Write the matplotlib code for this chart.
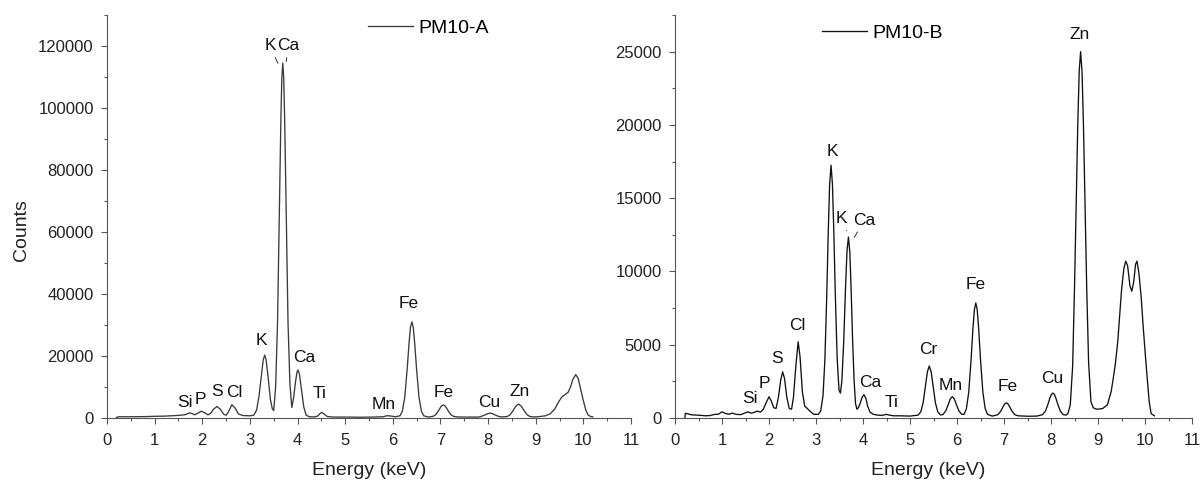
import matplotlib
matplotlib.use("Agg")
import matplotlib.pyplot as plt
from matplotlib.ticker import MultipleLocator

plt.rcParams['font.family'] = ['Liberation Sans', 'DejaVu Sans']

# ---------------- data: PM10-A ----------------
energy_A = [0.20, 0.25, 0.50, 0.80, 1.00, 1.20, 1.40, 1.55, 1.65, 1.70, 1.74, 1.78, 1.84, 1.90, 1.98,
            2.05, 2.12, 2.18, 2.24, 2.31, 2.38, 2.45, 2.50, 2.55, 2.62, 2.69, 2.76, 2.85, 3.00, 3.08,
            3.14, 3.19, 3.24, 3.28, 3.31, 3.34, 3.38, 3.43, 3.47, 3.50, 3.54, 3.58, 3.62, 3.65, 3.67,
            3.69, 3.71, 3.73, 3.76, 3.80, 3.84, 3.88, 3.92, 3.96, 3.99, 4.01, 4.04, 4.08, 4.13, 4.18,
            4.25, 4.35, 4.42, 4.47, 4.51, 4.55, 4.62, 4.75, 5.00, 5.30, 5.60, 5.80, 5.88, 5.95, 6.05,
            6.15, 6.20, 6.25, 6.30, 6.34, 6.37, 6.40, 6.43, 6.46, 6.50, 6.55, 6.60, 6.65, 6.75, 6.85,
            6.90, 6.95, 7.00, 7.03, 7.06, 7.09, 7.12, 7.17, 7.22, 7.27, 7.35, 7.50, 7.80, 7.85, 7.92,
            7.98, 8.04, 8.10, 8.16, 8.23, 8.30, 8.40, 8.46, 8.52, 8.58, 8.64, 8.70, 8.76, 8.82, 8.88,
            8.95, 9.05, 9.20, 9.30, 9.40, 9.48, 9.55, 9.62, 9.68, 9.73, 9.78, 9.84, 9.89, 9.94, 10.00,
            10.05, 10.10, 10.15, 10.20]
counts_A = [200, 400, 400, 450, 550, 600, 750, 900, 1100, 1450, 1650, 1450, 1050, 1500, 2200,
            1700, 1000, 1600, 2900, 3700, 2800, 1200, 900, 2000, 4300, 3200, 1300, 800, 700, 900,
            2500, 7000, 13500, 18800, 20300, 18800, 13500, 6000, 3000, 2400, 10100, 30800, 67300, 96300, 109700,
            114500, 109700, 96300, 67300, 30800, 10900, 3400, 6800, 12000, 14900, 15500, 14100, 9400, 3600, 900,
            400, 350, 600, 1400, 1800, 1400, 500, 300, 300, 250, 300, 400, 750, 650, 400,
            700, 2200, 6600, 15500, 24000, 29200, 31000, 29200, 24000, 15500, 6600, 2200, 700, 300, 560,
            1080, 2130, 3420, 3990, 4200, 3990, 3420, 2130, 1080, 560, 350, 300, 300, 475, 890,
            1340, 1600, 1340, 890, 475, 350, 480, 1025, 2280, 3750, 4500, 3750, 2280, 1025, 480,
            350, 400, 700, 1300, 2900, 5200, 6800, 7600, 8300, 10000, 12500, 14000, 12800, 9500, 5600,
            2600, 1000, 500, 350]

labels_A = ['Si', 'P', 'S', 'Cl', 'K', 'Ca', 'Ti', 'Mn', 'Fe', 'Fe', 'Cu', 'Zn']
labels_A_x = [1.64, 1.97, 2.30, 2.67, 3.24, 4.15, 4.47, 5.80, 6.34, 7.07, 8.02, 8.66]
labels_A_y = [4950, 6050, 8500, 8200, 25000, 19500, 8000, 4500, 36800, 8200, 5100, 8500]
# labels with leader lines: (text, text x, text y, leader end x, leader end y)
leader_A_text = ['K', 'Ca']
leader_A_tx = [3.42, 3.80]
leader_A_ty = [120000, 120000]
leader_A_px = [3.60, 3.76]
leader_A_py = [114000, 114500]

# ---------------- data: PM10-B ----------------
energy_B = [0.21, 0.22, 0.28, 0.35, 0.45, 0.55, 0.65, 0.75, 0.85, 0.92, 1.00, 1.08, 1.15, 1.22, 1.30,
            1.40, 1.48, 1.55, 1.62, 1.68, 1.75, 1.82, 1.88, 1.94, 2.00, 2.05, 2.10, 2.15, 2.20, 2.25,
            2.29, 2.33, 2.38, 2.43, 2.48, 2.52, 2.57, 2.62, 2.66, 2.71, 2.76, 2.80, 2.86, 2.95, 3.05,
            3.10, 3.15, 3.19, 3.23, 3.26, 3.29, 3.32, 3.35, 3.38, 3.41, 3.45, 3.49, 3.52, 3.55, 3.59,
            3.63, 3.66, 3.69, 3.72, 3.75, 3.78, 3.81, 3.84, 3.87, 3.90, 3.94, 3.98, 4.02, 4.06, 4.10,
            4.15, 4.22, 4.30, 4.40, 4.50, 4.55, 4.65, 4.80, 5.00, 5.10, 5.17, 5.23, 5.28, 5.33, 5.37,
            5.41, 5.45, 5.49, 5.54, 5.59, 5.65, 5.70, 5.76, 5.81, 5.86, 5.90, 5.94, 5.99, 6.04, 6.10,
            6.15, 6.20, 6.25, 6.30, 6.34, 6.37, 6.40, 6.43, 6.46, 6.50, 6.55, 6.60, 6.65, 6.75, 6.87,
            6.93, 6.98, 7.02, 7.05, 7.08, 7.12, 7.17, 7.23, 7.30, 7.50, 7.70, 7.82, 7.88, 7.93, 7.98,
            8.01, 8.04, 8.07, 8.10, 8.15, 8.20, 8.26, 8.32, 8.36, 8.41, 8.46, 8.50, 8.54, 8.57, 8.60,
            8.63, 8.66, 8.69, 8.72, 8.76, 8.80, 8.85, 8.90, 8.95, 9.00, 9.10, 9.20, 9.28, 9.32, 9.37,
            9.42, 9.46, 9.50, 9.55, 9.59, 9.63, 9.68, 9.72, 9.76, 9.80, 9.83, 9.87, 9.92, 9.96, 10.00,
            10.05, 10.09, 10.13, 10.20]
counts_B = [0, 320, 280, 220, 200, 180, 150, 170, 250, 250, 420, 300, 260, 330, 250,
            230, 330, 420, 330, 380, 470, 400, 600, 1050, 1450, 1150, 700, 650, 1400, 2600,
            3150, 2700, 1400, 650, 600, 1400, 3500, 5200, 4200, 1800, 800, 700, 500, 250, 250,
            480, 1540, 4040, 8530, 12590, 15940, 17250, 15940, 12590, 8540, 4110, 1890, 1700, 2520, 5240,
            9030, 11420, 12350, 11300, 8500, 5200, 2600, 1000, 600, 700, 1000, 1400, 1600, 1350, 800,
            400, 250, 200, 180, 250, 200, 150, 150, 130, 170, 190, 420, 1050, 2210, 3150,
            3550, 3150, 2210, 1050, 420, 210, 230, 485, 890, 1320, 1450, 1320, 890, 490, 250,
            250, 635, 1770, 4000, 6150, 7390, 7850, 7390, 6150, 4000, 1770, 635, 250, 130, 225,
            463, 770, 975, 1030, 975, 770, 463, 225, 150, 120, 130, 230, 465, 885, 1390,
            1620, 1700, 1620, 1390, 885, 465, 230, 200, 300, 900, 3500, 8850, 15230, 20050, 23650,
            25000, 23650, 20050, 15230, 8850, 3800, 1100, 700, 620, 600, 650, 900, 1800, 2600, 3700,
            5200, 7000, 8700, 10200, 10700, 10400, 9000, 8650, 9300, 10500, 10700, 9900, 8200, 6300, 4600,
            2600, 1100, 300, 150]

labels_B = ['Si', 'P', 'S', 'Cl', 'K', 'Ca', 'Ti', 'Cr', 'Mn', 'Fe', 'Fe', 'Cu', 'Zn']
labels_B_x = [1.60, 1.91, 2.17, 2.60, 3.34, 4.15, 4.61, 5.39, 5.87, 6.39, 7.07, 8.02, 8.61]
labels_B_y = [1345, 2370, 4080, 6280, 18190, 2410, 1045, 4690, 2210, 9130, 2140, 2710, 26160]
leader_B_text = ['K', 'Ca']
leader_B_tx = [3.55, 4.03]
leader_B_ty = [13590, 13480]
leader_B_px = [3.66, 3.80]
leader_B_py = [12700, 12250]

# ---------------- figure ----------------
W, H = 1203, 483
fig = plt.figure(figsize=(W / 100, H / 100), dpi=100)
axA = fig.add_axes([107 / W, 65 / H, 524 / W, 403 / H])
axB = fig.add_axes([675 / W, 65 / H, 517 / W, 403 / H])

spine_col = '#555555'


def style(ax, ymax, ymajor, yminor):
    ax.set_xlim(0, 11)
    ax.set_ylim(0, ymax)
    for s in ['top', 'right']:
        ax.spines[s].set_visible(False)
    for s in ['left', 'bottom']:
        ax.spines[s].set_color(spine_col)
        ax.spines[s].set_linewidth(0.8)
    ax.xaxis.set_major_locator(MultipleLocator(1))
    ax.xaxis.set_minor_locator(MultipleLocator(0.5))
    ax.yaxis.set_major_locator(MultipleLocator(ymajor))
    ax.yaxis.set_minor_locator(MultipleLocator(yminor))
    ax.tick_params(which='major', direction='out', length=4.5, width=0.8, color=spine_col,
                   labelsize=12, labelcolor='#222222')
    ax.tick_params(axis='x', which='major', pad=6)
    ax.tick_params(axis='y', which='major', pad=5)
    ax.tick_params(which='minor', direction='out', length=2.5, width=0.8, color=spine_col)
    ax.set_xlabel('Energy (keV)', fontsize=14, color='#222222')
    ax.patch.set_alpha(0)


style(axA, 130000, 20000, 10000)
style(axB, 27500, 5000, 2500)

axA.plot(energy_A, counts_A, color='#3a3a3a', lw=0.95, label='PM10-A')
axB.plot(energy_B, counts_B, color='#111111', lw=0.95, label='PM10-B')

for t, x, y in zip(labels_A, labels_A_x, labels_A_y):
    axA.text(x, y, t, ha='center', va='center', fontsize=12.5, color='#111111')
for t, x, y in zip(labels_B, labels_B_x, labels_B_y):
    axB.text(x, y, t, ha='center', va='center', fontsize=12.5, color='#111111')

for ax, tt, tx, ty, px, py in [(axA, leader_A_text, leader_A_tx, leader_A_ty, leader_A_px, leader_A_py),
                               (axB, leader_B_text, leader_B_tx, leader_B_ty, leader_B_px, leader_B_py)]:
    for t, x, y, x2, y2 in zip(tt, tx, ty, px, py):
        ax.annotate(t, xy=(x2, y2), xytext=(x, y), ha='center', va='center', fontsize=12.5,
                    color='#111111',
                    arrowprops=dict(arrowstyle='-', lw=0.7, color='#333333', shrinkA=1, shrinkB=1))

axA.set_ylabel('Counts', fontsize=14, color='#222222')
axA.yaxis.set_label_coords(-0.147, 0.466)
axA.xaxis.set_label_coords(0.5, -0.108)
axB.xaxis.set_label_coords(0.49, -0.108)

axA.legend(loc='center left', bbox_to_anchor=(0.498, 0.968), frameon=False, fontsize=14,
           handlelength=2.3, handletextpad=0.3, borderpad=0, borderaxespad=0)
axB.legend(loc='center left', bbox_to_anchor=(0.284, 0.955), frameon=False, fontsize=14,
           handlelength=2.3, handletextpad=0.3, borderpad=0, borderaxespad=0)

fig.savefig('out.png', dpi=100)
